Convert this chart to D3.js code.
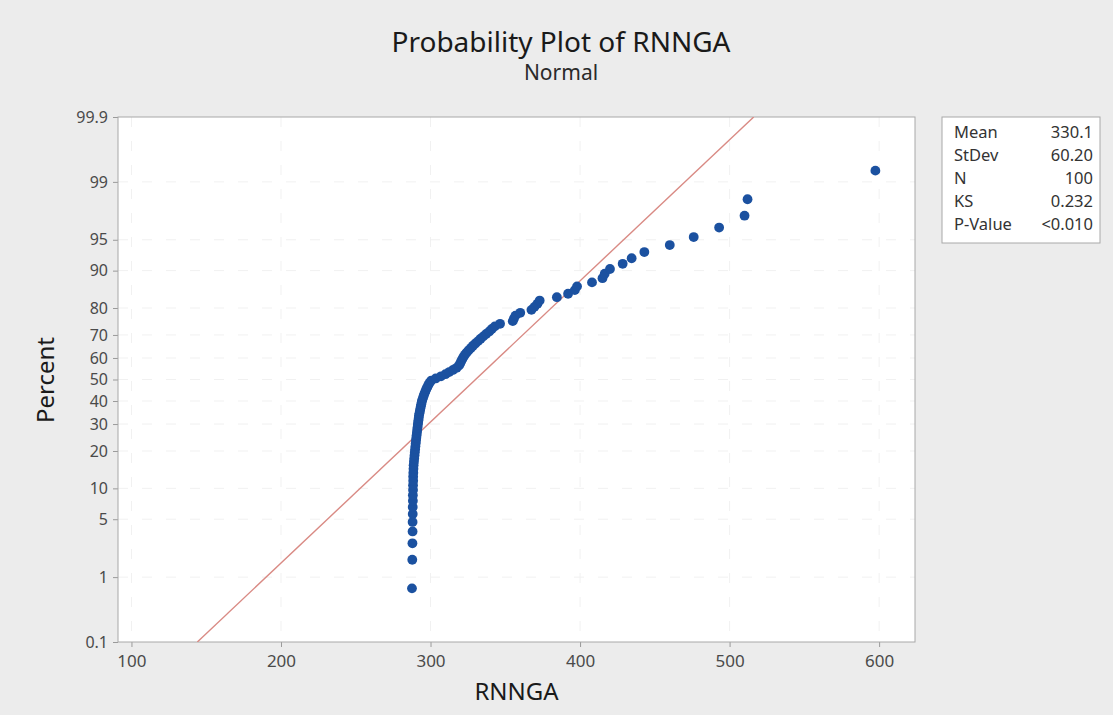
<!DOCTYPE html>
<html>
<head>
<meta charset="utf-8">
<script src="https://cdn.jsdelivr.net/npm/d3@7"></script>
<style>
  body { margin: 0; background: #ececec; }
  svg { display: block; font-family: "Noto Sans", "Open Sans", sans-serif; }
</style>
</head>
<body>
<div class="svg"></div>
<script>
var svgWidth = 1113;
var svgHeight = 715;

var margin = {
  top: 117,
  right: 198,
  bottom: 73,
  left: 118
};

var width = svgWidth - margin.left - margin.right;
var height = svgHeight - margin.top - margin.bottom;

// sorted RNNGA values (n = 100)
var rnngaValues = [
  287.6, 287.8, 287.9, 288.0, 288.0, 288.1, 288.1, 288.2, 288.2, 288.3,
  288.3, 288.4, 288.4, 288.5, 288.6, 288.7, 288.9, 289.1, 289.3, 289.5,
  289.7, 289.9, 290.1, 290.3, 290.5, 290.7, 290.9, 291.1, 291.3, 291.5,
  291.7, 291.9, 292.1, 292.3, 292.6, 292.9, 293.2, 293.5, 293.8, 294.1,
  294.5, 295.0, 295.5, 296.0, 296.6, 297.2, 297.9, 298.6, 299.4, 300.5,
  303.5, 307.0, 310.0, 312.5, 315.0, 317.5, 319.0, 319.8, 320.5, 321.2,
  322.0, 323.0, 324.2, 325.5, 327.0, 328.4, 330.0, 331.8, 333.5, 335.3,
  337.2, 339.3, 341.0, 343.0, 346.5, 355.0, 355.8, 356.8, 360.0, 367.5,
  369.5, 371.5, 373.0, 384.5, 392.0, 396.5, 398.0, 408.0, 415.0, 416.5,
  420.0, 428.5, 434.5, 443.0, 460.0, 476.0, 493.0, 510.0, 512.0, 597.5
];

var xTicks = [100, 200, 300, 400, 500, 600];
var percentTicks = [0.1, 1, 5, 10, 20, 30, 40, 50, 60, 70, 80, 90, 95, 99, 99.9];

var statLabels = ["Mean", "StDev", "N", "KS", "P-Value"];
var statValues = ["330.1", "60.20", "100", "0.232", "<0.010"];

// fitted normal line
var fitMean = 330.1;
var fitStDev = 60.20;

// inverse normal cdf (Acklam)
function probit(p) {
  var a = [-3.969683028665376e+01, 2.209460984245205e+02, -2.759285104469687e+02, 1.383577518672690e+02, -3.066479806614716e+01, 2.506628277459239e+00];
  var b = [-5.447609879822406e+01, 1.615858368580409e+02, -1.556989798598866e+02, 6.680131188771972e+01, -1.328068155288572e+01];
  var c = [-7.784894002430293e-03, -3.223964580411365e-01, -2.400758277161838e+00, -2.549732539343734e+00, 4.374664141464968e+00, 2.938163982698783e+00];
  var d = [7.784695709041462e-03, 3.224671290700398e-01, 2.445134137142996e+00, 3.754408661907416e+00];
  var plow = 0.02425, q, r;
  if (p < plow) {
    q = Math.sqrt(-2 * Math.log(p));
    return (((((c[0] * q + c[1]) * q + c[2]) * q + c[3]) * q + c[4]) * q + c[5]) / ((((d[0] * q + d[1]) * q + d[2]) * q + d[3]) * q + 1);
  }
  if (p > 1 - plow) {
    q = Math.sqrt(-2 * Math.log(1 - p));
    return -(((((c[0] * q + c[1]) * q + c[2]) * q + c[3]) * q + c[4]) * q + c[5]) / ((((d[0] * q + d[1]) * q + d[2]) * q + d[3]) * q + 1);
  }
  q = p - 0.5;
  r = q * q;
  return (((((a[0] * r + a[1]) * r + a[2]) * r + a[3]) * r + a[4]) * r + a[5]) * q / (((((b[0] * r + b[1]) * r + b[2]) * r + b[3]) * r + b[4]) * r + 1);
}

var n = rnngaValues.length;
var points = rnngaValues.map(function(v, i) {
  // median rank plotting position
  return { value: v, z: probit((i + 1 - 0.3) / (n + 0.4)) };
});

var zMin = probit(0.001);
var zMax = probit(0.999);

var xScale = d3.scaleLinear()
  .domain([91, 624])
  .range([0, width]);

var zScale = d3.scaleLinear()
  .domain([zMin, zMax])
  .range([height, 0]);

var svg = d3.selectAll(".svg")
  .append("svg")
  .attr("width", svgWidth)
  .attr("height", svgHeight);

svg.append("rect")
  .attr("width", svgWidth)
  .attr("height", svgHeight)
  .attr("fill", "#ececec");

svg.append("text")
  .text("Probability Plot of RNNGA")
  .attr("x", 561)
  .attr("y", 52)
  .attr("text-anchor", "middle")
  .attr("font-size", 28)
  .attr("fill", "#1a1a1a");

svg.append("text")
  .text("Normal")
  .attr("x", 561)
  .attr("y", 80)
  .attr("text-anchor", "middle")
  .attr("font-size", 21)
  .attr("fill", "#2a2a2a");

var plot = svg.append("g")
  .attr("transform", `translate(${margin.left}, ${margin.top})`);

plot.append("rect")
  .attr("width", width)
  .attr("height", height)
  .attr("fill", "#fff");

// faint grid
plot.append("g")
  .selectAll("line")
  .data(xTicks)
  .enter()
  .append("line")
  .attr("x1", function(d) { return xScale(d); })
  .attr("x2", function(d) { return xScale(d); })
  .attr("y1", 0)
  .attr("y2", height)
  .attr("stroke", "#f1f1f1")
  .attr("stroke-dasharray", "10,14");

plot.append("g")
  .selectAll("line")
  .data(percentTicks.slice(1, -1))
  .enter()
  .append("line")
  .attr("x1", 0)
  .attr("x2", width)
  .attr("y1", function(d) { return zScale(probit(d / 100)); })
  .attr("y2", function(d) { return zScale(probit(d / 100)); })
  .attr("stroke", "#f1f1f1")
  .attr("stroke-dasharray", "10,14");

// axes
var xAxis = plot.append("g")
  .attr("transform", `translate(0, ${height})`)
  .call(d3.axisBottom(xScale).tickValues(xTicks).tickSize(5).tickPadding(8));

var yAxis = plot.append("g")
  .call(d3.axisLeft(zScale)
    .tickValues(percentTicks.map(function(p) { return probit(p / 100); }))
    .tickFormat(function(d, i) { return percentTicks[i]; })
    .tickSize(5)
    .tickPadding(5));

[xAxis, yAxis].forEach(function(ax) {
  ax.select(".domain").remove();
  ax.selectAll(".tick line").attr("stroke", "#9a9a9a");
  ax.selectAll(".tick text")
    .attr("font-family", "Noto Sans, Open Sans, sans-serif")
    .attr("font-size", 16)
    .attr("fill", "#4a4a4a");
});
xAxis.selectAll(".tick text").attr("font-size", 17);

plot.append("rect")
  .attr("width", width)
  .attr("height", height)
  .attr("fill", "none")
  .attr("stroke", "#a8a8a8");

// fitted line
var clip = plot.append("clipPath")
  .attr("id", "plotclip")
  .append("rect")
  .attr("width", width)
  .attr("height", height);

plot.append("line")
  .attr("clip-path", "url(#plotclip)")
  .attr("x1", xScale(fitMean + fitStDev * zMin))
  .attr("y1", zScale(zMin))
  .attr("x2", xScale(fitMean + fitStDev * zMax))
  .attr("y2", zScale(zMax))
  .attr("stroke", "#d98a84")
  .attr("stroke-width", 1.4);

plot.append("g")
  .selectAll("circle")
  .data(points)
  .enter()
  .append("circle")
  .attr("cx", function(d) { return xScale(d.value); })
  .attr("cy", function(d) { return zScale(d.z); })
  .attr("r", 4.9)
  .attr("fill", "#1b51a0");

// axis titles
svg.append("text")
  .text("RNNGA")
  .attr("x", margin.left + width / 2)
  .attr("y", 700)
  .attr("text-anchor", "middle")
  .attr("font-size", 24)
  .attr("fill", "#1a1a1a");

svg.append("text")
  .text("Percent")
  .attr("transform", "translate(54, 380) rotate(-90)")
  .attr("text-anchor", "middle")
  .attr("font-size", 24)
  .attr("fill", "#1a1a1a");

// stats box
var box = svg.append("g")
  .attr("transform", "translate(942, 117)");

box.append("rect")
  .attr("width", 158)
  .attr("height", 126)
  .attr("fill", "#fff")
  .attr("stroke", "#a8a8a8");

box.selectAll(".lbl")
  .data(statLabels)
  .enter()
  .append("text")
  .attr("class", "lbl")
  .text(function(d) { return d; })
  .attr("x", 12)
  .attr("y", function(d, i) { return 21 + i * 23; })
  .attr("font-size", 16.5)
  .attr("fill", "#333");

box.selectAll(".val")
  .data(statValues)
  .enter()
  .append("text")
  .attr("class", "val")
  .text(function(d) { return d; })
  .attr("x", 151)
  .attr("y", function(d, i) { return 21 + i * 23; })
  .attr("text-anchor", "end")
  .attr("font-size", 16.5)
  .attr("fill", "#333");
</script>
</body>
</html>
